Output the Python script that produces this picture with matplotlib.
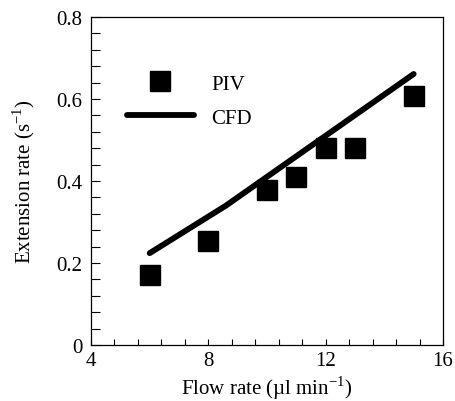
import matplotlib
matplotlib.use("Agg")
import matplotlib.pyplot as plt
import numpy as np

# Data
piv_flow = [6, 8, 10, 11, 12, 13, 15]
piv_rate = [0.171, 0.253, 0.378, 0.41, 0.48, 0.48, 0.607]
cfd_flow = [6, 8.6, 15]
cfd_rate = [0.224, 0.34, 0.661]

xticks = [4, 8, 12, 16]
xtick_labels = ["4", "8", "12", "16"]
yticks = [0, 0.2, 0.4, 0.6, 0.8]
ytick_labels = ["0", "0.2", "0.4", "0.6", "0.8"]

plt.rcParams['font.family'] = ['Liberation Serif', 'DejaVu Serif']
plt.rcParams['mathtext.fontset'] = 'custom'
plt.rcParams['mathtext.rm'] = 'Liberation Serif'

fig = plt.figure(figsize=(4.56, 4.02), dpi=100)
ax = fig.add_axes([91/456, 56/402, 352/456, 328/402])

ax.plot(cfd_flow, cfd_rate, color='black', lw=4.2, solid_capstyle='round',
        label='CFD', zorder=2)
ax.plot(piv_flow, piv_rate, linestyle='none', marker='s', ms=14.5, mew=1,
        color='black', label='PIV', zorder=3)

ax.set_xlim(4, 16)
ax.set_ylim(0, 0.8)
ax.set_xticks(xticks)
ax.set_xticklabels(xtick_labels)
ax.set_yticks(yticks)
ax.set_yticklabels(ytick_labels)
ax.set_xticks(np.arange(4, 16.01, 0.8), minor=True)
ax.set_yticks(np.arange(0, 0.801, 0.04), minor=True)

ax.tick_params(axis='x', which='both', direction='in', length=4.5, width=0.8,
               labelsize=15, pad=4, top=False)
ax.tick_params(axis='y', which='both', direction='in', length=6.5, width=0.8,
               labelsize=15, pad=6, right=False)
for s in ax.spines.values():
    s.set_linewidth(0.9)

ax.set_xlabel("Flow rate (µl min$^{\\mathrm{-1}}$)", fontsize=15, labelpad=3)
ax.set_ylabel("Extension rate (s$^{\\mathrm{-1}}$)", fontsize=15, labelpad=14)

h, l = ax.get_legend_handles_labels()
leg = ax.legend([h[1], h[0]], [l[1], l[0]], loc='upper left',
                bbox_to_anchor=((127-91)/352, (346-75)/328),
                frameon=False, fontsize=15, handlelength=3.2,
                handletextpad=0.85, labelspacing=0.7, borderpad=0,
                borderaxespad=0)

fig.savefig("out.png", dpi=100)
